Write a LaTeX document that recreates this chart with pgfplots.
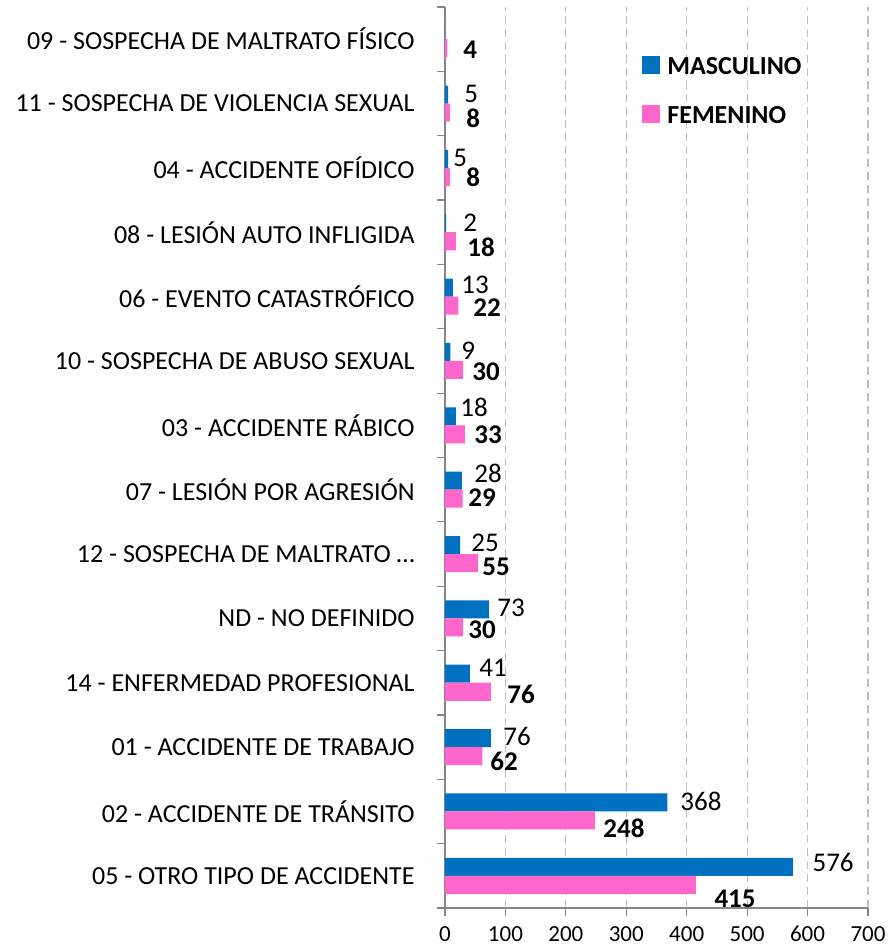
\documentclass[border=0pt]{standalone}
\usepackage{fontspec}
\setmainfont{Carlito}
\usepackage{pgfplots}
\pgfplotsset{compat=1.18}
\usepackage{pgfplotstable}
\definecolor{masc}{HTML}{0070C0}
\definecolor{fem}{HTML}{FF66CC}
\definecolor{axgray}{HTML}{868686}
\definecolor{gridgray}{HTML}{BFBFBF}

\pgfplotstableread{
y M F
0 576 415
1 368 248
2 76 62
3 41 76
4 73 30
5 25 55
6 28 29
7 18 33
8 9 30
9 13 22
10 2 18
11 5 8
12 5 8
13 0 4
}\bars

\pgfplotstableread{
lx ly lab
607.6 0.21 576
389 1.16 368
96.0 2.16 76
56.3 3.23 41
86.1 4.17 73
43.0 5.17 25
48.0 6.25 28
24.8 7.28 18
26.5 8.16 9
26.5 9.19 13
29.8 10.15 2
13.2 11.15 5
31.5 12.15 5
}\mlab

\pgfplotstableread{
lx ly lab
445.4 -0.36 415
261.6 0.74 248
74.5 1.78 62
102.6 2.82 76
38.1 3.83 30
61.3 4.80 55
38.1 5.87 29
48.0 6.86 33
44.7 7.84 30
46.4 8.83 22
36.4 9.76 18
34.8 10.85 8
34.8 11.77 8
29.8 12.84 4
}\flab

\begin{document}
\begin{tikzpicture}
\begin{axis}[
  scale only axis, width=211.5pt, height=450.5pt,
  xmin=0, xmax=700, ymin=-0.5, ymax=13.5,
  bar width=0.28,
  axis x line*=bottom, axis y line*=left,
  axis line style={axgray, line width=0.6pt},
  xtick={0,100,...,700},
  xmajorgrids,
  major grid style={gridgray, dash pattern=on 4pt off 2.5pt, line width=0.6pt},
  tick align=outside, major tick length=4pt,
  tick style={axgray, line width=0.6pt},
  /pgf/number format/assume math mode=true,
  xticklabel style={font=\fontsize{11.5}{13}\selectfont, inner sep=0pt, yshift=-5pt},
  ytick={-0.5,0.5,...,13.5}, yticklabels={},
  extra y ticks={0,1,2,3,4,5,6,7,8,9,10,11,12,13},
  extra y tick labels={05 - OTRO TIPO DE ACCIDENTE, 02 - ACCIDENTE DE TRÁNSITO, 01 - ACCIDENTE DE TRABAJO, 14 - ENFERMEDAD PROFESIONAL, ND - NO DEFINIDO, 12 - SOSPECHA DE MALTRATO …, 07 - LESIÓN POR AGRESIÓN, 03 - ACCIDENTE RÁBICO, 10 - SOSPECHA DE ABUSO SEXUAL, 06 - EVENTO CATASTRÓFICO, 08 - LESIÓN AUTO INFLIGIDA, 04 - ACCIDENTE OFÍDICO, 11 - SOSPECHA DE VIOLENCIA SEXUAL, 09 - SOSPECHA DE MALTRATO FÍSICO},
  extra y tick style={major tick length=0pt, yticklabel style={font=\fontsize{13}{15}\selectfont, inner sep=0pt, xshift=-15pt}},
  legend style={at={(0.4657,0.9462)}, anchor=north west, draw=none, fill=none,
    font=\fontsize{13}{15}\selectfont\bfseries, row sep=13.5pt, column sep=3.5pt,
    inner sep=0pt, nodes={inner sep=0pt}},
  legend cell align=left,
  clip=false,
]
\addplot[xbar, bar shift=0.14, fill=masc, draw=none,
  legend image code/.code={\fill[masc] (0pt,-3pt) rectangle (9pt,6pt);}]
  table[x=M, y=y]{\bars};
\addlegendentry{MASCULINO}
\addplot[xbar, bar shift=-0.14, fill=fem, draw=none,
  legend image code/.code={\fill[fem] (0pt,-3pt) rectangle (9pt,6pt);}]
  table[x=F, y=y]{\bars};
\addlegendentry{FEMENINO}
\addplot[forget plot, draw=none, mark=none, nodes near coords, point meta=explicit symbolic,
  nodes near coords style={anchor=west, inner sep=0pt, font=\fontsize{13.5}{15}\selectfont}]
  table[x=lx, y=ly, meta=lab]{\mlab};
\addplot[forget plot, draw=none, mark=none, nodes near coords, point meta=explicit symbolic,
  nodes near coords style={anchor=west, inner sep=0pt, font=\fontsize{13.5}{15}\selectfont\bfseries}]
  table[x=lx, y=ly, meta=lab]{\flab};
\end{axis}
\path (-222.5pt,-19.5pt) rectangle (222pt,454pt);
\end{tikzpicture}
\end{document}
